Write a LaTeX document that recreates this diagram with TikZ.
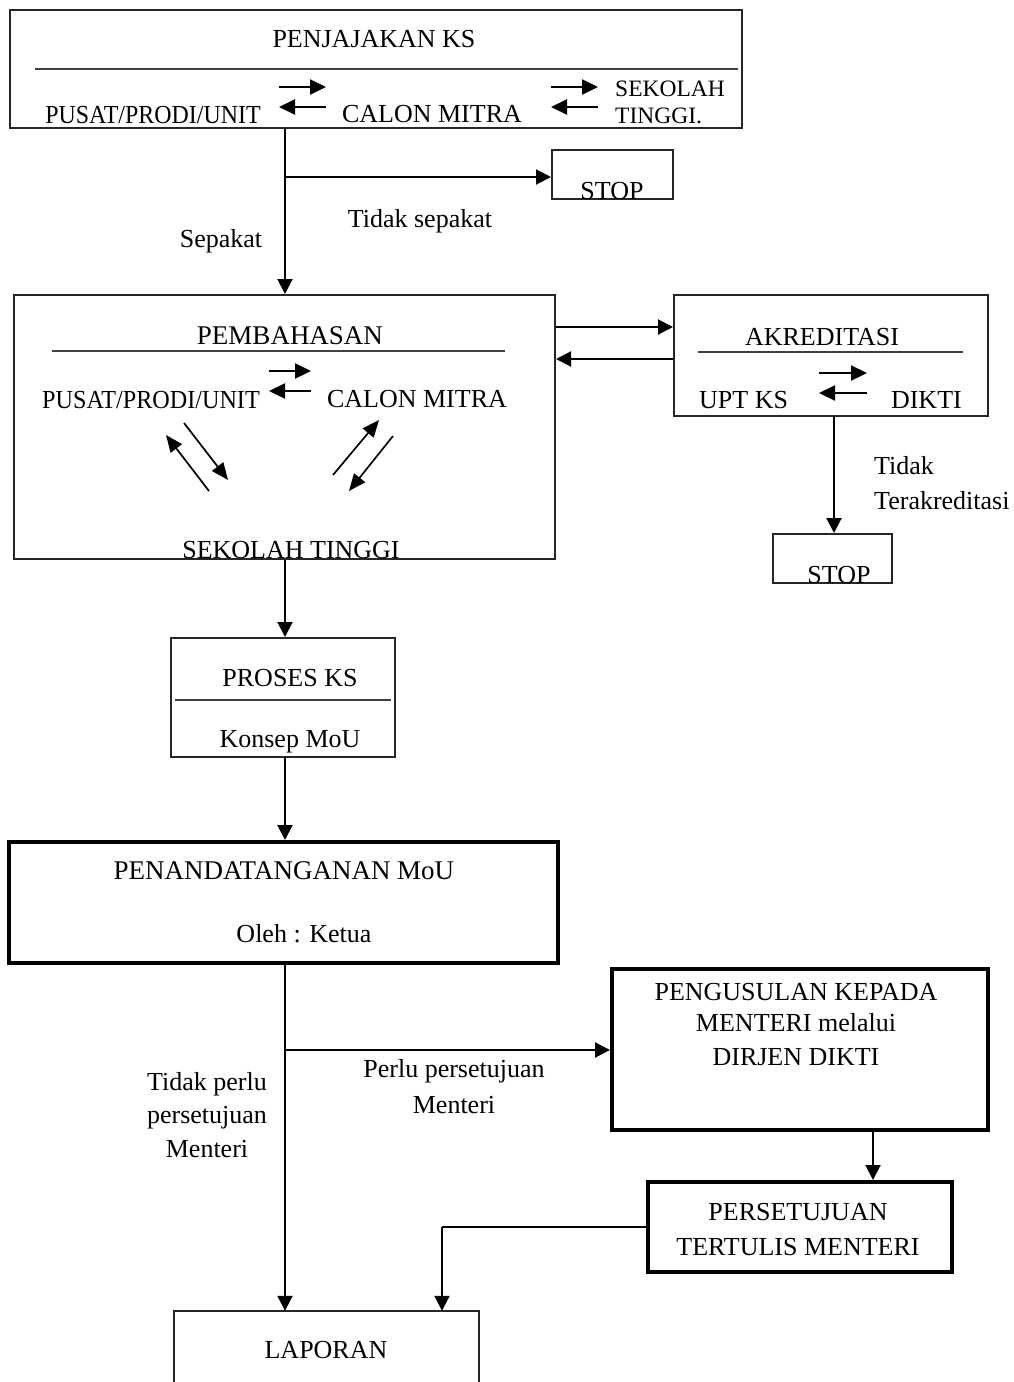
\documentclass[tikz,border=0pt]{standalone}
\usepackage{fontspec}
\usepackage{graphicx}
\setmainfont{Liberation Serif}
\usetikzlibrary{arrows.meta}
\newcommand{\fsz}[1]{\fontsize{#1}{#1}\selectfont}
\begin{document}
\begin{tikzpicture}[x=1pt,y=-1pt,
  every node/.style={font=\fsz{26}},
  thinbox/.style={draw=black!85, line width=2pt, inner sep=0pt},
  thickbox/.style={draw, line width=4pt, inner sep=0pt},
  txt/.style={anchor=base, inner sep=0pt},
  txtl/.style={anchor=base west, inner sep=0pt},
  txtr/.style={anchor=base east, inner sep=0pt},
  arr/.style={line width=2pt, -{Triangle[length=15pt,width=15pt]}},
  conn/.style={line width=2pt},
  sarr/.style={line width=2.2pt, -{Triangle[length=16pt,width=15pt]}},
  darr/.style={line width=1.7pt, -{Triangle[length=17pt,width=14pt]}},
  sep/.style={line width=2pt, draw=black!75}
]
\useasboundingbox (0,0) rectangle (1014,1382);

% boxes
\node[thinbox, minimum width=732pt, minimum height=118pt] (b1) at (376,69) {};
\node[thinbox, minimum width=121pt, minimum height=49pt] (stop1) at (612.5,174.5) {};
\node[thinbox, minimum width=541pt, minimum height=264pt] (b2) at (284.5,427) {};
\node[thinbox, minimum width=314pt, minimum height=121pt] (akr) at (831,355.5) {};
\node[thinbox, minimum width=119pt, minimum height=49pt] (stop2) at (832.5,558.5) {};
\node[thinbox, minimum width=224pt, minimum height=119pt] (proses) at (283,697.5) {};
\node[thickbox, minimum width=549pt, minimum height=121pt] (mou) at (283.5,902.5) {};
\node[thickbox, minimum width=376pt, minimum height=161pt] (usul) at (800,1049.5) {};
\node[thickbox, minimum width=304pt, minimum height=90pt] (setuju) at (800,1227) {};
\node[minimum width=305pt, minimum height=71pt, inner sep=0pt] (lap) at (326.5,1346.5) {};
\draw[draw=black!85, line width=2pt] (lap.south west) -- (lap.north west) -- (lap.north east) -- (lap.south east);

% separator lines inside boxes
\draw[sep] (35,69) -- (738,69);
\draw[sep] (52,351) -- (505,351);
\draw[sep] (698,352) -- (963,352);
\draw[sep] (175,700) -- (391,700);

% texts box 1
\node[txt] (t1) at (374,47) {PENJAJAKAN KS};
\node[txt] (t1a) at (153,123) {\scalebox{0.92}[1]{PUSAT/PRODI/UNIT}};
\node[txt] (t1b) at (432,122) {CALON MITRA};
\node[txtl, font=\fsz{23.5}] (t1c) at (615,96) {SEKOLAH};
\node[txtl, font=\fsz{23.5}] (t1d) at (615,123) {TINGGI.};
\node[txt] (ts1) at (612,199) {STOP};

% box 2 texts
\node[txt, font=\fsz{27}] (t2) at (290,344) {PEMBAHASAN};
\node[txt] (t2a) at (151,408) {\scalebox{0.93}[1]{PUSAT/PRODI/UNIT}};
\node[txt] (t2b) at (417,407) {CALON MITRA};
\node[txt] (t2c) at (291,558) {SEKOLAH TINGGI};

% akreditasi texts
\node[txt] (t3) at (822,345) {AKREDITASI};
\node[txtl] (t3a) at (699,408) {UPT KS};
\node[txtr] (t3b) at (962,408) {DIKTI};
\node[txt] (ts2) at (839,583) {STOP};

% proses
\node[txt] (t4) at (290,686) {PROSES KS};
\node[txt] (t4a) at (290,747) {Konsep MoU};

% mou
\node[txt, font=\fsz{27}] (t5) at (284,879) {PENANDATANGANAN MoU};
\node[txt] (t5a) at (304,942) {Oleh : Ketua};

% usul
\node[txt] (t6) at (796,1000) {PENGUSULAN KEPADA};
\node[txt] (t6a) at (796,1031) {MENTERI melalui};
\node[txt] (t6b) at (796,1065) {DIRJEN DIKTI};

% setuju
\node[txt] (t7) at (798,1220) {PERSETUJUAN};
\node[txt] (t7a) at (798,1255) {TERTULIS MENTERI};

% laporan
\node[txt] (t8) at (326,1358) {LAPORAN};

% labels
\node[txt] (l1) at (420,227) {Tidak sepakat};
\node[txt] (l2) at (221,247) {Sepakat};
\node[txtl] (l3) at (874,474) {Tidak};
\node[txtl] (l4) at (874,509) {Terakreditasi};
\node[txt] (l5) at (454,1077) {Perlu persetujuan};
\node[txt] (l6) at (454,1113) {Menteri};
\node[txt] (l7) at (207,1090) {Tidak perlu};
\node[txt] (l8) at (207,1123) {persetujuan};
\node[txt] (l9) at (207,1157) {Menteri};

% small double arrows
\coordinate (a1l) at (279,87); \coordinate (a1r) at (326,87);
\coordinate (a2l) at (279,107); \coordinate (a2r) at (326,107);
\draw[sarr] (a1l) -- (a1r);
\draw[sarr] (a2r) -- (a2l);
\coordinate (a3l) at (551,87); \coordinate (a3r) at (598,87);
\coordinate (a4l) at (551,107); \coordinate (a4r) at (598,107);
\draw[sarr] (a3l) -- (a3r);
\draw[sarr] (a4r) -- (a4l);
\coordinate (a5l) at (269,371); \coordinate (a5r) at (311,371);
\coordinate (a6l) at (269,391); \coordinate (a6r) at (311,391);
\draw[sarr] (a5l) -- (a5r);
\draw[sarr] (a6r) -- (a6l);
\coordinate (a7l) at (819,373); \coordinate (a7r) at (867,373);
\coordinate (a8l) at (819,393); \coordinate (a8r) at (867,393);
\draw[sarr] (a7l) -- (a7r);
\draw[sarr] (a8r) -- (a8l);

% diagonal arrows
\coordinate (d1a) at (209,491); \coordinate (d1b) at (166,435);
\coordinate (d2a) at (184,423); \coordinate (d2b) at (228,480);
\coordinate (d3a) at (333,475); \coordinate (d3b) at (379,420);
\coordinate (d4a) at (393,436); \coordinate (d4b) at (349,491);
\draw[darr] (d1a) -- (d1b);
\draw[darr] (d2a) -- (d2b);
\draw[darr] (d3a) -- (d3b);
\draw[darr] (d4a) -- (d4b);

% connectors
\coordinate (spine) at (285,0);
\coordinate (j1) at (285,177);
\draw[arr] (spine |- b1.south) -- (spine |- b2.north);
\draw[arr] (j1) -- (j1 -| stop1.west);
\coordinate (h1) at (0,327);
\coordinate (h2) at (0,359);
\draw[arr] (h1 -| b2.east) -- (h1 -| akr.west);
\draw[arr] (h2 -| akr.west) -- (h2 -| b2.east);
\coordinate (v2) at (834,0);
\draw[arr] (v2 |- akr.south) -- (v2 |- stop2.north);
\draw[arr] (spine |- b2.south) -- (spine |- proses.north);
\draw[arr] (spine |- proses.south) -- (spine |- mou.north);
\draw[arr] (spine |- mou.south) -- (spine |- lap.north);
\coordinate (j2) at (285,1050);
\draw[arr] (j2) -- (j2 -| usul.west);
\coordinate (v3) at (873,0);
\draw[arr] (v3 |- usul.south) -- (v3 |- setuju.north);
\coordinate (k1) at (442,1227);
\draw[conn] (setuju.west) -- (k1);
\draw[arr] (k1) -- (k1 |- lap.north);
\end{tikzpicture}
\end{document}
